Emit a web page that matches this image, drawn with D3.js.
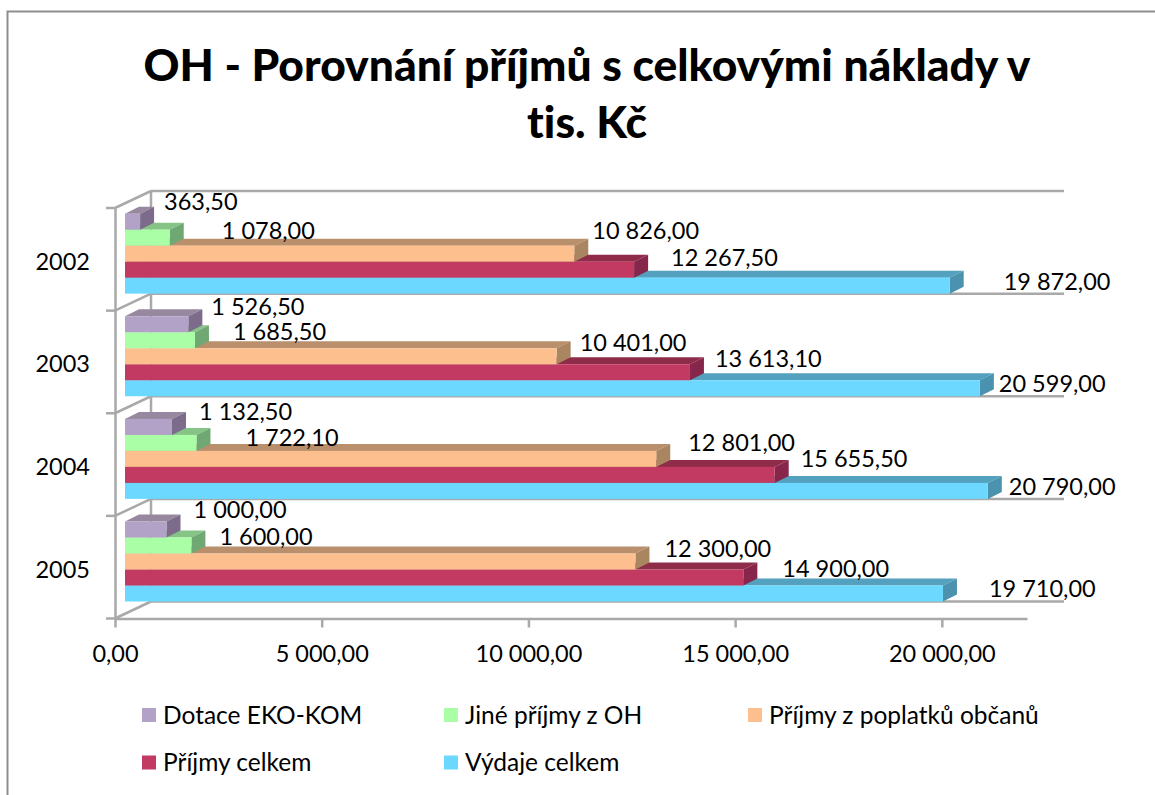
<!DOCTYPE html>
<html>
<head>
<meta charset="utf-8">
<script src="https://cdn.jsdelivr.net/npm/d3@7"></script>
<style>
  html, body { margin: 0; padding: 0; background: #fff; }
  text { font-family: Lato, "Open Sans", sans-serif; fill: #000; font-variant-ligatures: none; }
</style>
</head>
<body>
<div id="chart"></div>
<script>
    var years = ['2002', '2003', '2004', '2005'];
    var seriesNames = ['Dotace EKO-KOM', 'Jiné příjmy z OH', 'Příjmy z poplatků občanů', 'Příjmy celkem', 'Výdaje celkem'];

    var dotace = [363.5, 1526.5, 1132.5, 1000];
    var jine = [1078, 1685.5, 1722.1, 1600];
    var poplatky = [10826, 10401, 12801, 12300];
    var prijmy = [12267.5, 13613.1, 15655.5, 14900];
    var vydaje = [19872, 20599, 20790, 19710];
    var seriesValues = [dotace, jine, poplatky, prijmy, vydaje];

    var xTicks = [0, 5000, 10000, 15000, 20000];

    // face colours per series: front, top, side
    var colors = [
        ['#b3a2c7', '#97889f', '#7d6b8c'],
        ['#aaffa6', '#86c486', '#6fa873'],
        ['#fcbf8d', '#b98f6c', '#a98560'],
        ['#c23a62', '#8f2c4a', '#86264a'],
        ['#6cd8ff', '#53a0bf', '#4b92ae']
    ];

    // Excel placed the 3D data labels by hand, nudges are px from bar end / bar middle
    var labelDx = [
        [25, 53, 19, 38, 55],
        [24, 39, 24, 26, 20],
        [28, 50, 33, 27, 22],
        [28, 29, 30, 40, 47]
    ];
    var labelDy = [
        [-20, -7, -23, -12, -4],
        [-17, -8, -13, -13, -4],
        [-15, -5, -16, -16, -4],
        [-20, -9, -13, -9, -5]
    ];

    var width = 1155;
    var height = 795;
    var depthX = 36, depthY = 17;    // floor depth
    var barDx = 14, barDy = 7;       // bar depth
    var barHeight = 16;
    var gridColor = '#a9a9a9';

    var locale = d3.formatLocale({
        decimal: ',',
        thousands: ' ',
        grouping: [3],
        currency: ['', ' Kč']
    });
    var fmt = locale.format(',.2f');

    var svg = d3.select('#chart')
        .append('svg')
        .attr('width', width)
        .attr('height', height)
        .style('display', 'block');

    // outer frame, only top and left are in the crop
    svg.append('path')
        .attr('d', 'M7.5,795V11.5H1155')
        .attr('fill', 'none')
        .attr('stroke', '#8e8e8e')
        .attr('stroke-width', 2);

    // title
    svg.append('text')
        .attr('x', 587)
        .attr('y', 81)
        .attr('text-anchor', 'middle')
        .style('font-size', '44.4px')
        .style('font-weight', 900)
        .text('OH - Porovnání příjmů s celkovými náklady v');
    svg.append('text')
        .attr('x', 587)
        .attr('y', 138)
        .attr('text-anchor', 'middle')
        .style('font-size', '44.4px')
        .style('font-weight', 900)
        .text('tis. Kč');

    // scales: front of the floor, and the bars which sit a bit further in
    var x = d3.scaleLinear().domain([0, 22060]).range([115, 1027]);
    var xBar = d3.scaleLinear().domain([0, 22000]).range([125, 1038]);
    var yFront = d3.scaleBand().domain(years).range([208, 618.5]);
    var yBack = d3.scaleBand().domain(years).range([208 - depthY, 618.5 - depthY]);
    var ySeries = d3.scaleBand().domain(seriesNames)
        .range([yBack.bandwidth() - barHeight * seriesNames.length, yBack.bandwidth()]);

    // back wall lines and the diagonals of the side wall
    var edges = [yFront(years[0])].concat(years.map(function(y) {
        return yFront(y) + yFront.bandwidth();
    }));

    var walls = svg.append('g')
        .attr('stroke', gridColor)
        .attr('stroke-width', 2.5)
        .attr('fill', 'none');

    walls.selectAll('.grid')
        .data(edges)
        .enter()
        .append('line')
        .attr('x1', x(0) + depthX)
        .attr('x2', 1064)
        .attr('y1', function(d) { return d - depthY; })
        .attr('y2', function(d) { return d - depthY; });

    walls.selectAll('.diag')
        .data(edges)
        .enter()
        .append('line')
        .attr('x1', x(0))
        .attr('y1', function(d) { return d; })
        .attr('x2', x(0) + depthX)
        .attr('y2', function(d) { return d - depthY; });

    walls.append('line')
        .attr('x1', x(0) + depthX)
        .attr('x2', x(0) + depthX)
        .attr('y1', edges[0] - depthY)
        .attr('y2', edges[edges.length - 1] - depthY);

    walls.selectAll('.ltick')
        .data(edges)
        .enter()
        .append('line')
        .attr('x1', x(0) - 9)
        .attr('x2', x(0))
        .attr('y1', function(d) { return d; })
        .attr('y2', function(d) { return d; });

    // axes
    var xAxis = d3.axisBottom(x)
        .tickValues(xTicks)
        .tickSize(9)
        .tickSizeOuter(0)
        .tickPadding(18)
        .tickFormat(fmt);
    var xG = svg.append('g')
        .attr('transform', 'translate(0,' + edges[edges.length - 1] + ')')
        .call(xAxis);

    var yAxis = d3.axisLeft(yFront)
        .tickSize(0)
        .tickPadding(25);
    var yG = svg.append('g')
        .attr('transform', 'translate(' + x(0) + ',3)')
        .call(yAxis);
    yG.select('path.domain').attr('transform', 'translate(0,-3)');

    [xG, yG].forEach(function(g) {
        g.selectAll('path.domain, line')
            .attr('stroke', gridColor)
            .attr('stroke-width', 2.5);
        g.selectAll('text')
            .style('font-size', '23.5px')
            .style('font-family', 'Lato, sans-serif');
    });

    // bars, lowest series first so that upper ones cover their tops
    var points = [];
    years.forEach(function(year, yi) {
        for (var si = seriesNames.length - 1; si >= 0; si--) {
            points.push({
                year: year,
                yi: yi,
                si: si,
                name: seriesNames[si],
                value: seriesValues[si][yi]
            });
        }
    });

    function x1(d) { return xBar(d.value); }
    function yTop(d) { return yBack(d.year) + ySeries(d.name); }

    var bars = svg.append('g').selectAll('g')
        .data(points)
        .enter()
        .append('g');

    bars.append('path')
        .attr('fill', function(d) { return colors[d.si][1]; })
        .attr('d', function(d) {
            var x0 = xBar(0), y = yTop(d);
            return 'M' + x0 + ',' + y + 'L' + (x0 + barDx) + ',' + (y - barDy) +
                'L' + (x1(d) + barDx) + ',' + (y - barDy) + 'L' + x1(d) + ',' + y + 'Z';
        });

    bars.append('path')
        .attr('fill', function(d) { return colors[d.si][2]; })
        .attr('d', function(d) {
            var y = yTop(d), r = x1(d);
            return 'M' + r + ',' + y + 'L' + (r + barDx) + ',' + (y - barDy) +
                'L' + (r + barDx) + ',' + (y - barDy + barHeight) + 'L' + r + ',' + (y + barHeight) + 'Z';
        });

    bars.append('rect')
        .attr('fill', function(d) { return colors[d.si][0]; })
        .attr('x', xBar(0))
        .attr('y', yTop)
        .attr('width', function(d) { return x1(d) - xBar(0); })
        .attr('height', barHeight);

    // data labels
    svg.append('g').selectAll('text')
        .data(points)
        .enter()
        .append('text')
        .attr('x', function(d) { return x1(d) + labelDx[d.yi][d.si] - 1; })
        .attr('y', function(d) { return yTop(d) + barHeight / 2 + labelDy[d.yi][d.si]; })
        .attr('dy', '0.35em')
        .style('font-size', '23.5px')
        .text(function(d) { return fmt(d.value); });

    // legend
    var legendX = d3.scaleOrdinal().domain([0, 1, 2]).range([142, 444, 748]);
    var legendY = d3.scaleOrdinal().domain([0, 1]).range([715, 762.5]);

    var legend = svg.append('g').selectAll('g')
        .data(seriesNames)
        .enter()
        .append('g')
        .attr('transform', function(d, i) {
            return 'translate(' + legendX(i % 3) + ',' + legendY(Math.floor(i / 3)) + ')';
        });

    legend.append('rect')
        .attr('y', -7)
        .attr('width', 14)
        .attr('height', 14)
        .attr('fill', function(d, i) { return colors[i][0]; });

    legend.append('text')
        .attr('x', 21)
        .attr('dy', '0.35em')
        .style('font-size', '24.5px')
        .text(function(d) { return d; });
</script>
</body>
</html>
